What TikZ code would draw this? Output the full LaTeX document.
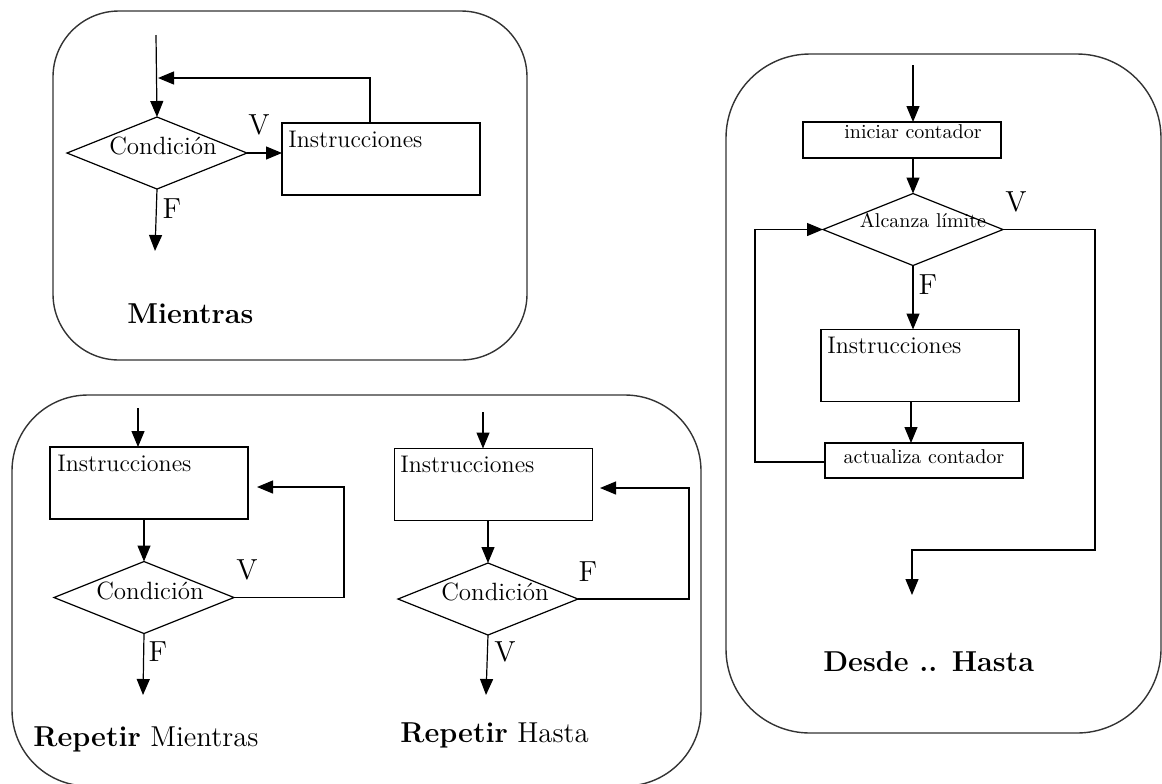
\documentclass[tikz,border=0pt]{standalone}
\usepackage{fontspec}
\usetikzlibrary{arrows.meta,shapes.geometric,calc}
\tikzset{
  panel/.style={draw=black!80, line width=0.7pt},
  flow/.style={line width=0.6pt},
  arr/.style={flow, -{Triangle[length=8pt,width=6.5pt]}},
  box/.style={draw, rectangle, inner sep=0pt, outer sep=0pt, line width=0.6pt,
              minimum width=99pt, minimum height=36pt},
  smallbox/.style={box, minimum height=18pt},
  cond/.style={draw, diamond, inner sep=0pt, outer sep=0pt, line width=0.6pt,
               minimum width=90pt, minimum height=36pt},
  txt/.style={inner sep=0pt, anchor=base west, font=\fontsize{12}{14}\selectfont},
  ctxt/.style={inner sep=0pt, anchor=base, font=\fontsize{12.5}{14}\selectfont},
  stxt/.style={inner sep=0pt, anchor=base, font=\fontsize{10}{12}\selectfont},
  vf/.style={inner sep=0pt, font=\fontsize{14.5}{16}\selectfont},
  title/.style={inner sep=0pt, anchor=base west, font=\fontsize{14.4}{16}\selectfont},
}
\begin{document}
\begin{tikzpicture}[x=0.5pt, y=-0.5pt]
\useasboundingbox (0,0) rectangle (1162,783);

% ---------- Mientras ----------
\draw[panel, rounded corners=33pt] (53,11) rectangle (527,360);
\coordinate (s1) at (156,35);
\node[cond] (d1) at (157,153) {};
\node[ctxt] (c1) at (163,154) {Condición};
\node[box] (b1) at (381,159) {};
\node[txt] (i1) at (288,147) {Instrucciones};
\coordinate (j1) at (158,78);
\coordinate (e1) at (155,251);
\draw[arr] (s1) -- (d1.north);
\draw[arr] (d1.east) -- (d1.east -| b1.west);
\draw[arr] ($(b1.north west)!0.444!(b1.north east)$) |- (j1);
\draw[arr] (d1.south) -- (e1);
\node[vf] (v1) at (259,125) {V};
\node[vf] (f1) at (172,209) {F};
\node[title] (t1) at (127,323) {\bfseries Mientras};

% ---------- Repetir Mientras / Repetir Hasta ----------
\draw[panel, rounded corners=38pt] (12,395) rectangle (701,786);

\coordinate (s2) at (138,408);
\node[box] (b2) at (149,483) {};
\node[txt] (i2) at (57,471) {Instrucciones};
\node[cond] (d2) at (144,597.5) {};
\node[ctxt] (c2) at (150,599) {Condición};
\coordinate (k2) at (344,487);
\coordinate (r2) at (257,487);
\coordinate (e2) at (143,695);
\draw[arr] (s2) -- (s2 |- b2.north);
\draw[arr] (b2.south -| d2.north) -- (d2.north);
\draw[arr] (d2.east) -| (k2) -- (r2);
\draw[arr] (d2.south) -- (e2);
\node[vf] (v2) at (247,570) {V};
\node[vf] (f2) at (158,652) {F};
\node[title] (t2) at (33,746) {\bfseries Repetir\mdseries\ Mientras};

\coordinate (s3) at (483,412);
\node[box] (b3) at (493.5,484.5) {};
\node[txt] (i3) at (400,472) {Instrucciones};
\node[cond] (d3) at (488,599) {};
\node[ctxt] (c3) at (495,600) {Condición};
\coordinate (k3) at (689,488);
\coordinate (r3) at (600,488);
\coordinate (e3) at (486,695);
\draw[arr] (s3) -- (s3 |- b3.north);
\draw[arr] (b3.south -| d3.north) -- (d3.north);
\draw[arr] (d3.east) -| (k3) -- (r3);
\draw[arr] (d3.south) -- (e3);
\node[vf] (f3) at (588,572) {F};
\node[vf] (v3) at (505,652) {V};
\node[title] (t3) at (400,742) {\bfseries Repetir\mdseries\ Hasta};

% ---------- Desde .. Hasta ----------
\draw[panel, rounded corners=42pt] (726,54) rectangle (1161,733);
\coordinate (s4) at (913,65);
\node[smallbox] (b4) at (902,140) {};
\node[stxt] (i4) at (913,138) {iniciar contador};
\node[cond] (d4) at (913,229.5) {};
\node[stxt] (c4) at (923,227) {Alcanza límite};
\node[box] (b5) at (920,365.5) {};
\node[txt] (i5) at (827,353) {Instrucciones};
\node[smallbox, minimum height=17.5pt] (b6) at (924,460.5) {};
\node[stxt] (i6) at (924,463) {actualiza contador};
\coordinate (k4) at (1095,550);
\coordinate (m4) at (912,550);
\coordinate (e4) at (912,595);
\coordinate (k6) at (755,462);
\draw[arr] (s4) -- (s4 |- b4.north);
\draw[arr] (b4.south -| d4.north) -- (d4.north);
\draw[arr] (d4.south) -- (d4.south |- b5.north);
\draw[arr] ([xshift=-4.5pt]b5.south) -- ([xshift=-4.5pt]b5.south |- b6.north);
\draw[arr] (b6.west |- k6) -- (k6) |- (d4.west);
\draw[arr] (d4.east) -| (k4) -- (m4) -- (e4);
\node[vf] (v4) at (1016,202) {V};
\node[vf] (f4) at (928,285) {F};
\node[title] (t4) at (823,671) {\bfseries Desde ..\hspace{0.5em}Hasta};
\end{tikzpicture}
\end{document}
